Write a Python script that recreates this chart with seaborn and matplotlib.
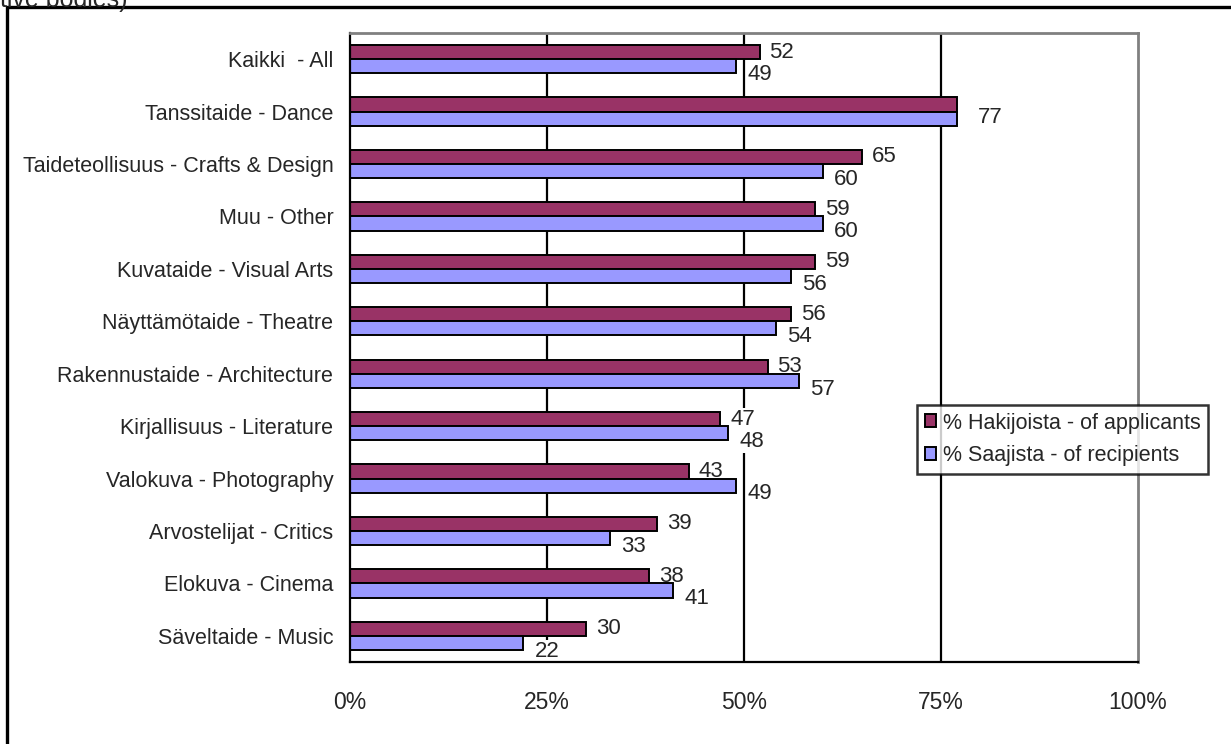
import pandas as pd
import numpy as np
import matplotlib.pyplot as plt
import matplotlib.patches as patches
from matplotlib.ticker import FixedLocator
import seaborn as sns

categories = ["Kaikki  - All", "Tanssitaide - Dance", "Taideteollisuus - Crafts & Design",
              "Muu - Other", "Kuvataide - Visual Arts", "Näyttämötaide - Theatre",
              "Rakennustaide - Architecture", "Kirjallisuus - Literature",
              "Valokuva - Photography", "Arvostelijat - Critics", "Elokuva - Cinema",
              "Säveltaide - Music"]
applicants = [52, 77, 65, 59, 59, 56, 53, 47, 43, 39, 38, 30]
recipients = [49, 77, 60, 60, 56, 54, 57, 48, 49, 33, 41, 22]
series = ["% Hakijoista - of applicants", "% Saajista - of recipients"]
colors = ["#993366", "#9999FF"]
xticks = [0, 25, 50, 75, 100]

df = pd.DataFrame({
    "cat": categories * 2,
    "value": applicants + recipients,
    "series": [series[0]] * len(categories) + [series[1]] * len(categories),
})

sns.set_style("white")
plt.rcParams['font.family'] = ['Liberation Sans', 'DejaVu Sans']
plt.rcParams['font.size'] = 15.5

fig = plt.figure(figsize=(12.31, 7.44), dpi=100)
ax = fig.add_axes([350 / 1231, 1 - 662 / 744, 788 / 1231, 629 / 744])

sns.barplot(data=df, y="cat", x="value", hue="series", orient="h",
            order=categories, hue_order=series, palette=colors, saturation=1,
            width=0.54, gap=0, edgecolor="black", linewidth=1.4, ax=ax)
for c in ax.containers:
    for bar in c:
        bar.set_zorder(2)

ax.set_xlim(0, 100)
ax.set_ylim(len(categories) - 0.5, -0.5)
ax.set_xticks(xticks)
ax.set_xticklabels([f"{t}%" for t in xticks], fontsize=16.5)
ax.set_xlabel("")
ax.set_ylabel("")

# gridlines
ax.set_axisbelow(True)
for t in [25, 50, 75]:
    ax.axvline(t, color="black", lw=1.6, zorder=0.5)

for s in ["left", "bottom"]:
    ax.spines[s].set_color("black")
    ax.spines[s].set_linewidth(1.6)
for s in ["top", "right"]:
    ax.spines[s].set_color("#808080")
    ax.spines[s].set_linewidth(2)

ax.tick_params(axis="x", direction="out", length=5, width=1.5, pad=16, color="black")
ax.tick_params(axis="y", which="major", length=0, pad=12, labelsize=15.5)
ax.yaxis.set_minor_locator(FixedLocator(np.arange(-0.5, len(categories), 1)))
ax.tick_params(axis="y", which="minor", direction="out", length=5, width=1.5, color="black")

# data labels
for bar, v in zip(ax.containers[0], applicants):
    if v == 77:
        continue
    y = bar.get_y() + bar.get_height() / 2
    ax.annotate(str(v), (bar.get_width(), y), xytext=(7, 0), textcoords="offset points",
                va="center", ha="left", fontsize=16, zorder=1,
                bbox=dict(facecolor="white", edgecolor="none", pad=0.5))
for bar, v, a in zip(ax.containers[1], recipients, applicants):
    y = bar.get_y() + bar.get_height() / 2
    if v == 77 and a == 77:
        ax.annotate(str(v), (bar.get_width(), bar.get_y()), xytext=(15, -4),
                    textcoords="offset points", va="center", ha="left", fontsize=16)
        continue
    ax.annotate(str(v), (bar.get_width(), y), xytext=(8, -6), textcoords="offset points",
                va="center", ha="left", fontsize=16, zorder=1,
                bbox=dict(facecolor="white", edgecolor="none", pad=0.5))

leg = ax.legend(loc="upper left", bbox_to_anchor=(917 / 1231, 1 - 405 / 744),
                bbox_transform=fig.transFigure, title=None, fontsize=15.5,
                frameon=True, fancybox=False, edgecolor="black",
                handlelength=0.55, handleheight=0.55, handletextpad=0.3,
                borderpad=0.35, labelspacing=0.55, borderaxespad=0)
leg.get_frame().set_linewidth(1.8)
leg.set_zorder(5)

# outer chart frame and cut-off heading
fig.add_artist(patches.Rectangle((7 / 1231, -0.1), 1.2, 1.1 - 7 / 744, transform=fig.transFigure,
                                 fill=False, edgecolor="black", lw=2.4, clip_on=False))
fig.text(0.0, 1.0, "tive bodies)", ha="left", va="center", fontsize=18)

fig.savefig("out.png", dpi=100)
